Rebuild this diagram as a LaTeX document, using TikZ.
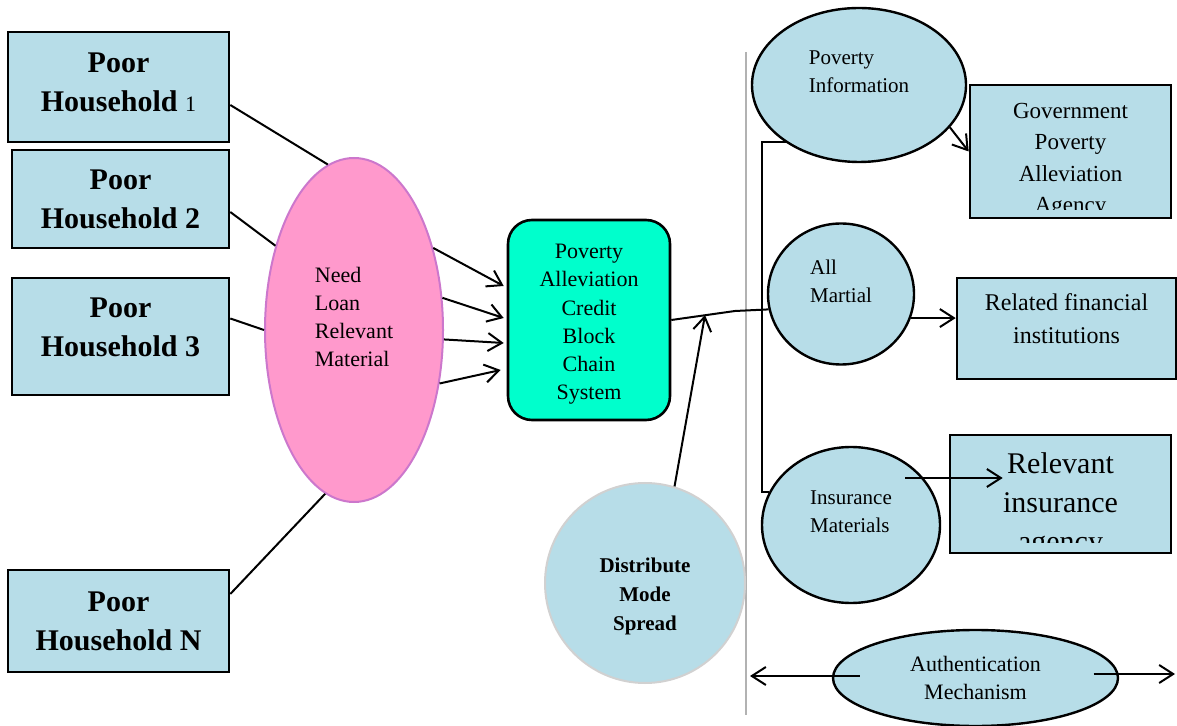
\documentclass[tikz,border=0pt]{standalone}
\usepackage{fontspec}
\setmainfont{Liberation Serif}
\usetikzlibrary{shapes.geometric,arrows.meta}
\definecolor{lblue}{HTML}{B7DDE8}
\definecolor{lpink}{HTML}{FF99CC}
\definecolor{pinkline}{HTML}{CC77CC}
\definecolor{aqua}{HTML}{00FFCC}
\begin{document}
\begin{tikzpicture}[x=0.5pt,y=-0.5pt]
        \tikzset{
            hh/.style={rectangle, draw, line width=1.3pt, fill=lblue, align=center, inner sep=0pt,
              font=\bfseries\fontsize{15}{19.5}\selectfont},
            tgt/.style={rectangle, draw, line width=1.3pt, fill=lblue, inner sep=0pt},
            bub/.style={ellipse, draw, line width=1.2pt, fill=lblue, align=left, inner sep=0pt,
              font=\fontsize{10.5}{14}\selectfont},
            c1/.style={-, line width=1pt},
            arr/.style={-{Straight Barb[length=7pt,width=9pt]}, line width=1pt}
            }
            \useasboundingbox (0,0) rectangle (1177,726);
            \draw[line width=1pt, black!30] (746,52) -- (746,715);

            % poor households
            \node[hh, minimum width=110.5pt, minimum height=55pt] (ph1) at (118.5,87)
              {Poor\\Household {\mdseries\fontsize{11}{11}\selectfont 1}\\[-14.5pt]\mbox{}};
            \node[hh, minimum width=108.5pt, minimum height=49pt] (ph2) at (120.5,199) {Poor\\Household 2};
            \node[hh, minimum width=108.5pt, minimum height=58.5pt] (ph3) at (120.5,336.5)
              {Poor\\Household 3\\[-10pt]\mbox{}};
            \node[hh, minimum width=110.5pt, minimum height=51pt] (phn) at (118.5,621) {Poor\\Household N};

            \node[ellipse, draw=pinkline, line width=1pt, fill=lpink, minimum width=89pt, minimum height=172pt,
              inner sep=0pt, align=left, font=\fontsize{11}{14}\selectfont] (need) at (354,330)
              {Need\\Loan\\Relevant\\Material\\[-5pt]\strut};

            \node[rectangle, rounded corners=12pt, draw, line width=1.3pt, fill=aqua, minimum width=81pt,
              minimum height=100pt, align=center, font=\fontsize{11}{14.1}\selectfont] (grn) at (589,320)
              {\mbox{}\\[-2.5pt]Poverty\\Alleviation\\Credit\\Block\\Chain\\System};

            \node[circle, draw=black!18, line width=1pt, fill=lblue, minimum size=100pt, inner sep=0pt,
              align=center, font=\bfseries\fontsize{10.5}{14.5}\selectfont] (dist) at (645,583)
              {\mbox{}\\[6pt]Distribute\\Mode\\Spread};

            % right side
            \node[bub, minimum width=107pt, minimum height=77pt] (info) at (859,85)
              {Poverty\\Information\\[-5pt]\strut};
            \node[bub, minimum width=73pt, minimum height=70.5pt] (mart) at (841,294) {All\\Martial\\[-5pt]\strut};
            \node[bub, minimum width=89pt, minimum height=78pt] (ins) at (851,525)
              {Insurance\\Materials\\[-5pt]\strut};
            \node[bub, minimum width=142.5pt, minimum height=48pt, align=center, font=\fontsize{11}{14}\selectfont]
              (auth) at (975.5,678) {Authentication\\Mechanism};

            \node[tgt, minimum width=100.5pt, minimum height=66.5pt] (gov) at (1070.5,151.5) {};
            \node[tgt, minimum width=109.5pt, minimum height=50.5pt] (fin) at (1066.5,328.5) {};
            \node[align=center, font=\fontsize{12}{16.5}\selectfont] (fintxt) at ([yshift=5pt]fin.center)
              {Related financial\\institutions};
            \node[tgt, minimum width=110.5pt, minimum height=59pt] (agy) at (1060.5,494) {};
            \begin{scope}
              \clip (gov.north west) rectangle ([yshift=5pt]gov.south east);
              \node[align=center, font=\fontsize{11.5}{15.75}\selectfont] (govtxt) at ([yshift=-4.5pt]gov.center)
                {Government\\Poverty\\Alleviation\\Agency};
            \end{scope}
            \begin{scope}
              \clip (agy.north west) rectangle ([yshift=6pt]agy.south east);
              \node[align=center, font=\fontsize{15}{19.5}\selectfont] (agytxt) at ([yshift=-5.5pt]agy.center)
                {Relevant\\insurance\\agency};
            \end{scope}

            \coordinate (jn) at (735,311);
            \coordinate (hit) at (705,315);
            \coordinate (authL) at (750,676);
            \coordinate (authR) at (1175,674);

            \draw[c1] ([yshift=-9pt]ph1.east) -- (need.99);
            \draw[c1] ([yshift=-6.5pt]ph2.east) -- (need.133);
            \draw[c1] ([yshift=9pt]ph3.east) -- (need.180);
            \draw[c1] ([yshift=13.5pt]phn.east) -- (need.260);

            \draw[arr] (need.46) -- ([xshift=-1.5pt,yshift=17pt]grn.west);
            \draw[arr] (need.20) -- ([xshift=-1.5pt,yshift=1pt]grn.west);
            \draw[arr] (need.-6) -- ([xshift=-1.5pt,yshift=-11.5pt]grn.west);
            \draw[arr] (need.-32) -- ([xshift=-3pt,yshift=-25pt]grn.west);

            \draw[c1] (grn.east) -- (jn) -- (mart.192);
            \draw[arr] (dist.73) -- (hit);
            \draw[c1] (info.218) -- ++(-24,0) |- (ins.158);

            \draw[arr] (info.-25) -- (gov.west);
            \draw[arr] (mart.-19) -- (mart.-19 -| fin.west);
            \draw[arr] ([xshift=27pt,yshift=23.5pt]ins.center) -- ([xshift=27pt,yshift=23.5pt]ins.center -| agy.west);
            \draw[arr] ([xshift=-58pt,yshift=1pt]auth.center) -- (authL);
            \draw[arr] ([xshift=59pt,yshift=2pt]auth.center) -- (authR);
        \end{tikzpicture}
\end{document}
